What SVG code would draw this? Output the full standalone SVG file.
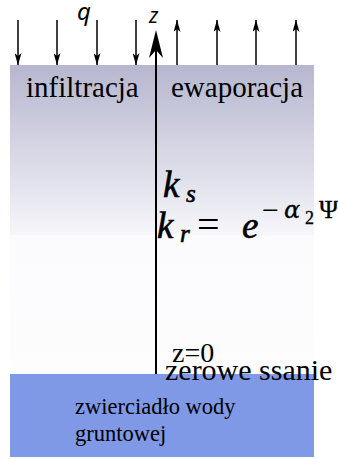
<svg xmlns="http://www.w3.org/2000/svg" width="338" height="459" viewBox="0 0 338 459">
<defs>
<linearGradient id="soil" x1="0" y1="65" x2="0" y2="374" gradientUnits="userSpaceOnUse">
<stop offset="0" stop-color="#b6b6cf"/>
<stop offset="0.55" stop-color="#f6f6fa"/>
<stop offset="0.551" stop-color="#fbfbfd"/>
<stop offset="1" stop-color="#fdfdfe"/>
</linearGradient>
<marker id="ah" viewBox="0 0 12 7" refX="12" refY="3.5" markerWidth="12" markerHeight="7" markerUnits="userSpaceOnUse" orient="auto">
<path d="M0,0 L12,3.5 L0,7 L3,3.5 Z" fill="#000"/>
</marker>
</defs>
<style>
.ar{stroke:#000;stroke-width:1.5;fill:none}
.ser{font-family:"Liberation Serif",serif;fill:#000}
.math{font-family:"Liberation Serif","DejaVu Serif",serif;font-style:italic;fill:#000;stroke:#000;stroke-width:0.6}
.sym{font-family:"Noto Sans","DejaVu Sans",sans-serif;font-style:italic;fill:#000}
.up{font-style:normal}
.gr{font-family:"DejaVu Serif",serif}
</style>
<g id="soil-layer"><rect x="10" y="65" width="304" height="309" fill="url(#soil)"/></g>
<g id="water-table"><rect x="10" y="374" width="304" height="83" fill="#7f99e6"/>
<text class="ser" x="75" y="414" font-size="22.5">zwierciadło wody</text>
<text class="ser" x="75" y="441" font-size="22.5">gruntowej</text></g>
<g id="connectors">
<line class="ar" x1="18" y1="20" x2="18" y2="65" marker-end="url(#ah)"/>
<line class="ar" x1="57" y1="20" x2="57" y2="65" marker-end="url(#ah)"/>
<line class="ar" x1="97" y1="20" x2="97" y2="65" marker-end="url(#ah)"/>
<line class="ar" x1="136" y1="20" x2="136" y2="65" marker-end="url(#ah)"/>
<line class="ar" x1="177" y1="65" x2="177" y2="20" marker-end="url(#ah)"/>
<line class="ar" x1="217" y1="65" x2="217" y2="20" marker-end="url(#ah)"/>
<line class="ar" x1="256" y1="65" x2="256" y2="20" marker-end="url(#ah)"/>
<line class="ar" x1="296" y1="65" x2="296" y2="20" marker-end="url(#ah)"/>
<line x1="156" y1="374" x2="156" y2="50" stroke="#000" stroke-width="2"/>
<path d="M156,30 L149,58 L156,50 L163,58 Z" fill="#000"/>
</g>
<g id="labels">
<text class="sym" x="77" y="20" font-size="24">q</text>
<text class="sym" x="149" y="23" font-size="21">z</text>
<text class="ser" x="26" y="97" font-size="29">infiltracja</text>
<text class="ser" x="171" y="97" font-size="29">ewaporacja</text>
<text class="math" font-size="37" y="197"><tspan x="163">k</tspan><tspan x="186" y="202" font-size="25">s</tspan></text>
<text class="math" font-size="37" y="238"><tspan x="157">k</tspan><tspan x="180" y="242" font-size="25">r</tspan><tspan x="197" y="238" class="up" font-size="40" stroke-width="0">=</tspan><tspan x="242" y="238">e</tspan><tspan x="262" y="220" class="up" font-size="30" stroke-width="0">−</tspan><tspan x="284" y="218" class="gr" font-size="24" stroke-width="0.3">α</tspan><tspan x="305" y="224" class="up" font-size="18" stroke-width="0.3">2</tspan><tspan x="319" y="218" class="up" font-size="26" stroke-width="0.3">Ψ</tspan></text>
<text class="ser" x="172" y="362" font-size="28">z=0</text>
<text class="ser" x="165" y="380" font-size="30">zerowe ssanie</text>
</g>
</svg>
